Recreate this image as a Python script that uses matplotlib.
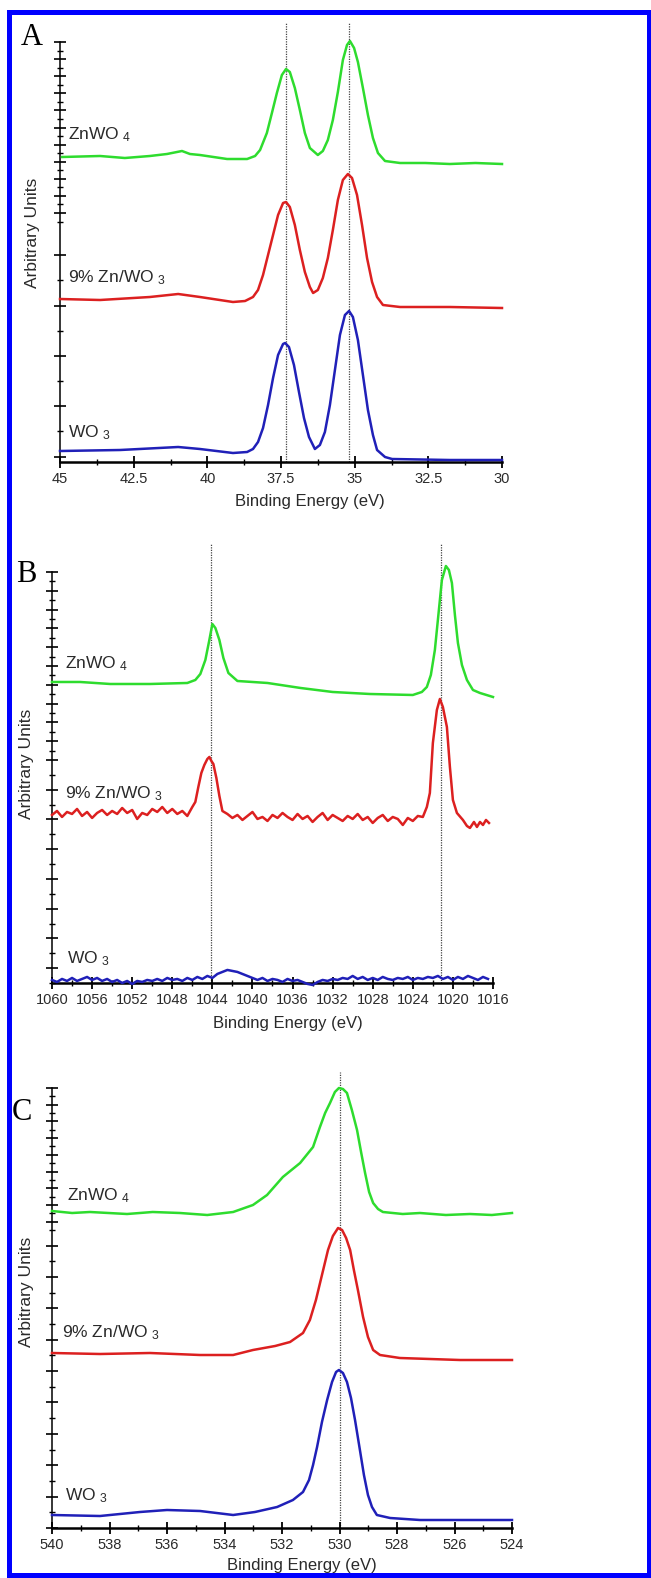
import numpy as np
import matplotlib
matplotlib.use("Agg")
import matplotlib.pyplot as plt
from matplotlib.patches import Rectangle

plt.rcParams['font.family'] = ['Liberation Sans', 'DejaVu Sans']
plt.rcParams['mathtext.default'] = 'regular'

W, H = 651, 1578
GREEN, RED, BLUE = '#2edc2e', '#dc2020', '#2020b8'
TXT = '#2a2a2a'

# ---- panel A : W 4f region (eV, intensity in arbitrary units) ----
a_green_x = [44.93, 43.64, 42.8, 41.95, 41.37, 40.86, 40.59, 40.25, 39.33, 38.65, 38.38, 38.21, 37.98, 37.80,
             37.64, 37.47, 37.33, 37.20, 37.03, 36.86, 36.69, 36.52, 36.25, 36.08, 35.91, 35.74, 35.57,
             35.40, 35.26, 35.16, 35.02, 34.89, 34.72, 34.55, 34.38, 34.21, 33.97, 33.46, 32.6, 31.77, 30.9, 30.0]
a_green_y = [305, 306, 304, 306, 308, 311, 308, 307, 303, 303, 306, 312, 329, 350,
             369, 387, 393, 390, 374, 352, 329, 314, 307, 311, 322, 342, 370,
             402, 417, 421, 414, 400, 374, 347, 324, 309, 301, 299, 299, 298, 299, 298]

a_red_x = [45.0, 43.64, 41.95, 40.99, 40.25, 39.13, 38.72, 38.45, 38.28, 38.11, 37.94, 37.77, 37.60,
           37.43, 37.33, 37.20, 37.03, 36.86, 36.69, 36.52, 36.41, 36.25, 36.08, 35.91, 35.74, 35.57,
           35.40, 35.23, 35.09, 34.92, 34.75, 34.58, 34.41, 34.24, 34.04, 33.46, 31.77, 30.0]
a_red_y = [163, 162, 165, 168, 165, 160, 161, 165, 172, 187, 207, 227, 247,
           259, 260, 255, 237, 212, 190, 175, 169, 172, 184, 204, 232, 262,
           282, 288, 284, 267, 237, 204, 180, 165, 157, 155, 155, 154]

a_blue_x = [45.0, 42.96, 40.99, 40.25, 39.13, 38.65, 38.45, 38.28, 38.11, 37.94, 37.77, 37.60, 37.43,
            37.36, 37.23, 37.06, 36.89, 36.72, 36.55, 36.35, 36.18, 36.01, 35.84, 35.67, 35.50, 35.33,
            35.19, 35.06, 34.89, 34.72, 34.55, 34.38, 34.24, 33.97, 33.73, 31.77, 30.0]
a_blue_y = [11, 12, 15, 13, 9, 10, 13, 20, 34, 57, 84, 107, 118,
            119, 115, 97, 70, 44, 25, 13, 17, 30, 57, 92, 127, 147,
            151, 145, 122, 87, 52, 27, 12, 5, 3, 2, 2]

# ---- panel B : Zn 2p region ----
b_green_x = [1060.0, 1057.2, 1054.2, 1050.2, 1046.5, 1045.7, 1045.2, 1044.7, 1044.3, 1044.0, 1043.7,
             1043.3, 1042.9, 1042.4, 1041.5, 1038.5, 1035.2, 1032.0, 1028.3, 1024.0, 1023.1, 1022.6,
             1022.2, 1021.8, 1021.4, 1021.1, 1020.7, 1020.4, 1020.1, 1019.8, 1019.5, 1019.1, 1018.6,
             1018.0, 1017.3, 1016.0]
b_green_y = [301, 301, 299, 299, 300, 303, 309, 323, 343, 359, 355,
             343, 325, 310, 302, 300, 295, 291, 289, 288, 291, 296,
             308, 333, 373, 403, 417, 413, 400, 368, 340, 318, 303,
             293, 290, 286]

b_red_x = [1060.0, 1059.5, 1059.0, 1058.5, 1058.0, 1057.5, 1057.0, 1056.5, 1056.0, 1055.5, 1055.0,
           1054.5, 1054.0, 1053.5, 1053.0, 1052.5, 1052.0, 1051.5, 1051.0, 1050.5, 1050.0, 1049.5,
           1049.0, 1048.5, 1048.0, 1047.5, 1047.0, 1046.5, 1046.0, 1045.7, 1045.4, 1045.1, 1044.8,
           1044.5, 1044.3, 1044.1, 1043.9, 1043.6, 1043.3, 1043.0, 1042.5, 1042.0, 1041.5, 1041.0,
           1040.5, 1040.0, 1039.5, 1039.0, 1038.5, 1038.0, 1037.5, 1037.0, 1036.5, 1036.0, 1035.5,
           1035.0, 1034.5, 1034.0, 1033.5, 1033.0, 1032.5, 1032.0, 1031.5, 1031.0, 1030.5, 1030.0,
           1029.5, 1029.0, 1028.5, 1028.0, 1027.5, 1027.0, 1026.5, 1026.0, 1025.5, 1025.0, 1024.5,
           1024.0, 1023.5, 1023.0, 1022.6, 1022.3, 1022.0, 1021.6, 1021.3, 1021.0, 1020.6, 1020.3,
           1020.0, 1019.6, 1019.0, 1018.6, 1018.3, 1017.9, 1017.6, 1017.3, 1017.0, 1016.7, 1016.4]
b_red_y = [168, 172, 166, 171, 169, 174, 167, 171, 165, 170, 173,
           168, 172, 169, 175, 170, 173, 164, 170, 168, 174, 171,
           176, 170, 174, 169, 172, 167, 176, 181, 196, 210, 218,
           224, 226, 222, 219, 205, 187, 172, 169, 165, 168, 163,
           167, 171, 164, 166, 162, 168, 165, 170, 166, 163, 169,
           164, 167, 161, 166, 170, 163, 168, 165, 162, 167, 164,
           169, 163, 166, 160, 165, 168, 162, 166, 164, 158, 165,
           162, 167, 166, 176, 190, 240, 273, 284, 276, 256, 216,
           183, 170, 163, 157, 155, 161, 156, 161, 158, 163, 160]

b_blue_x = [1060.0, 1059.5, 1059.0, 1058.5, 1058.0, 1057.5, 1057.0, 1056.5, 1056.0, 1055.5, 1055.0,
            1054.5, 1054.0, 1053.5, 1053.0, 1052.5, 1052.0, 1051.5, 1051.0, 1050.5, 1050.0, 1049.5,
            1049.0, 1048.5, 1048.0, 1047.5, 1047.0, 1046.5, 1046.0, 1045.5, 1045.0, 1044.5, 1044.0,
            1043.5, 1043.0, 1042.5, 1042.0, 1041.5, 1041.0, 1040.5, 1040.0, 1039.5, 1039.0, 1038.5,
            1038.0, 1037.5, 1037.0, 1036.5, 1036.0, 1035.5, 1035.0, 1034.5, 1034.0, 1033.5, 1033.0,
            1032.5, 1032.0, 1031.5, 1031.0, 1030.5, 1030.0, 1029.5, 1029.0, 1028.5, 1028.0, 1027.5,
            1027.0, 1026.5, 1026.0, 1025.5, 1025.0, 1024.5, 1024.0, 1023.5, 1023.0, 1022.5, 1022.0,
            1021.5, 1021.0, 1020.5, 1020.0, 1019.5, 1019.0, 1018.5, 1018.0, 1017.5, 1017.0, 1016.5]
b_blue_y = [3, 1, 4, 2, 5, 2, 4, 6, 3, 5, 2,
            4, 1, 3, 0, 2, -1, 2, 1, 3, 2, 4,
            2, 5, 3, 4, 2, 5, 3, 6, 4, 7, 5,
            9, 11, 13, 12, 11, 9, 7, 5, 3, 5, 2,
            4, 3, 1, 4, 2, 3, 1, -1, -2, 1, 3,
            2, 4, 3, 5, 4, 7, 4, 6, 3, 5, 3,
            6, 4, 3, 5, 4, 6, 3, 5, 4, 6, 5,
            7, 4, 6, 3, 6, 4, 7, 5, 3, 6, 4]

# ---- panel C : O 1s region ----
c_green_x = [540.0, 539.3, 538.68, 537.39, 536.5, 535.55, 534.6, 533.70, 533.01, 532.52, 531.97, 531.37,
             530.92, 530.68, 530.50, 530.33, 530.16, 530.02, 529.88, 529.74, 529.57, 529.39, 529.25,
             529.11, 528.97, 528.83, 528.66, 528.49, 527.8, 527.20, 526.3, 525.46, 524.7, 524.0]
c_green_y = [317, 315, 316, 314, 316, 315, 313, 316, 323, 333, 351, 365,
             381, 401, 415, 425, 436, 440, 439, 435, 418, 398, 376,
             355, 336, 325, 319, 316, 314, 315, 313, 314, 313, 315]

c_red_x = [540.0, 538.33, 536.59, 534.85, 533.70, 533.01, 532.24, 531.72, 531.27, 531.03, 530.82,
           530.61, 530.40, 530.23, 530.05, 529.91, 529.77, 529.63, 529.50, 529.36, 529.18, 529.01,
           528.83, 528.59, 527.90, 525.81, 524.0]
c_red_y = [175, 174, 175, 173, 173, 178, 182, 186, 195, 208, 228,
           253, 278, 292, 300, 298, 290, 278, 258, 238, 211, 191,
           178, 173, 170, 168, 168]

c_blue_x = [540.0, 538.33, 536.94, 536.0, 534.85, 533.70, 532.94, 532.17, 531.62, 531.27, 531.06,
            530.92, 530.78, 530.61, 530.43, 530.26, 530.12, 530.02, 529.88, 529.74, 529.60, 529.46,
            529.29, 529.15, 529.01, 528.87, 528.70, 528.24, 527.20, 524.0]
c_blue_y = [13, 12, 16, 18, 17, 13, 16, 21, 28, 36, 48,
            63, 81, 106, 128, 146, 156, 158, 155, 146, 130, 108,
            78, 53, 33, 21, 13, 10, 8, 8]

names = ['ZnWO$_{\\ 4}$', '9% Zn/WO$_{\\ 3}$', 'WO$_{\\ 3}$']


def fx(px):
    return px / W


def fy(py):
    return 1 - py / H


fig = plt.figure(figsize=(W / 100, H / 100), dpi=100)


def make_panel(left, right, top, bottom, xlim, ylim_top, spine_top, dense_from, dense_step,
               low_step, xmaj, xmin_, letter, letter_pos, label_pos, ylab_pos, dotted, dot_top,
               curves, names_pos):
    ax = fig.add_axes([fx(left), fy(bottom), fx(right - left), (bottom - top) / H])
    ax.set_xlim(*xlim)
    ax.set_ylim(0, ylim_top)
    for s in ['top', 'right']:
        ax.spines[s].set_visible(False)
    ax.spines['left'].set_bounds(0, spine_top)
    ax.spines['left'].set_linewidth(1.1)
    ax.spines['bottom'].set_linewidth(1.8)
    ax.patch.set_alpha(0)

    for x in dotted:
        ax.vlines(x, 0, dot_top, colors='#444444', linestyles=(0, (1, 1)), lw=0.9, clip_on=False, zorder=1)

    for (xs, ys, c) in curves:
        ax.plot(xs, ys, color=c, lw=1.8, clip_on=False, zorder=3)

    # y ticks: dense near the top, sparser below (stacked axes)
    dense = list(np.arange(spine_top, dense_from - 0.1, -dense_step))
    low = list(np.arange(dense_from - low_step, -0.1, -low_step))
    allt = dense + low
    ax.set_yticks(allt[::2])
    ax.set_yticks(allt[1::2], minor=True)
    ax.tick_params(axis='y', which='major', direction='inout', length=9, width=1.2, labelleft=False)
    ax.tick_params(axis='y', which='minor', direction='inout', length=5, width=1.0)

    ax.set_xticks(xmaj)
    ax.set_xticks(xmin_, minor=True)
    ax.set_xticklabels([('%g' % v) for v in xmaj])
    ax.tick_params(axis='x', which='major', direction='inout', length=8, width=1.3, pad=3,
                   labelsize=10.5, labelcolor=TXT)
    ax.tick_params(axis='x', which='minor', direction='inout', length=5, width=1.0)

    fig.text(fx(letter_pos[0]), fy(letter_pos[1]), letter, family='Liberation Serif', fontsize=22,
             ha='left', va='baseline', color='black')
    fig.text(fx(label_pos[0]), fy(label_pos[1]), 'Binding Energy (eV)', fontsize=12, ha='center',
             va='baseline', color=TXT)
    fig.text(fx(ylab_pos[0]), fy(ylab_pos[1]), 'Arbitrary Units', fontsize=12.5, rotation=90,
             ha='center', va='center', color=TXT)
    for n, (px, py) in zip(names, names_pos):
        fig.text(fx(px), fy(py), n, fontsize=12.5, ha='left', va='baseline', color=TXT)
    return ax


make_panel(60, 502, 38, 462, (45, 30), 424, 420, 232, 8.55, 25.17,
           [45, 42.5, 40, 37.5, 35, 32.5, 30], [43.75, 41.25, 38.75, 36.25, 33.75, 31.25],
           'A', (21, 45), (310, 506), (32, 233), [37.33, 35.19], 440,
           [(a_green_x, a_green_y, GREEN), (a_red_x, a_red_y, RED), (a_blue_x, a_blue_y, BLUE)],
           [(68, 139), (68, 282), (68, 437)])

make_panel(52, 493, 563, 983, (1060, 1016), 420, 411, 223, 9.4, 14.87,
           list(range(1060, 1015, -4)), list(range(1058, 1017, -4)),
           'B', (16, 582), (288, 1028), (27, 764), [1044.1, 1021.2], 440,
           [(b_green_x, b_green_y, GREEN), (b_red_x, b_red_y, RED), (b_blue_x, b_blue_y, BLUE)],
           [(65, 668), (65, 798), (67, 963)])

make_panel(52, 512, 1086, 1528, (540, 524), 442, 440, 298, 8.35, 15.68,
           list(range(540, 523, -2)), list(range(539, 524, -2)),
           'C', (12, 1120), (302, 1570), (27, 1292), [530.0], 456,
           [(c_green_x, c_green_y, GREEN), (c_red_x, c_red_y, RED), (c_blue_x, c_blue_y, BLUE)],
           [(67, 1200), (62, 1337), (65, 1500)])

# blue frame round the whole figure
fig.patches.append(Rectangle((fx(8.5), fy(1575)), fx(640), (1575 - 11.5) / H, transform=fig.transFigure,
                             fill=False, edgecolor='#0000ff', lw=3.6, zorder=10))

fig.savefig('out.png', dpi=100)
